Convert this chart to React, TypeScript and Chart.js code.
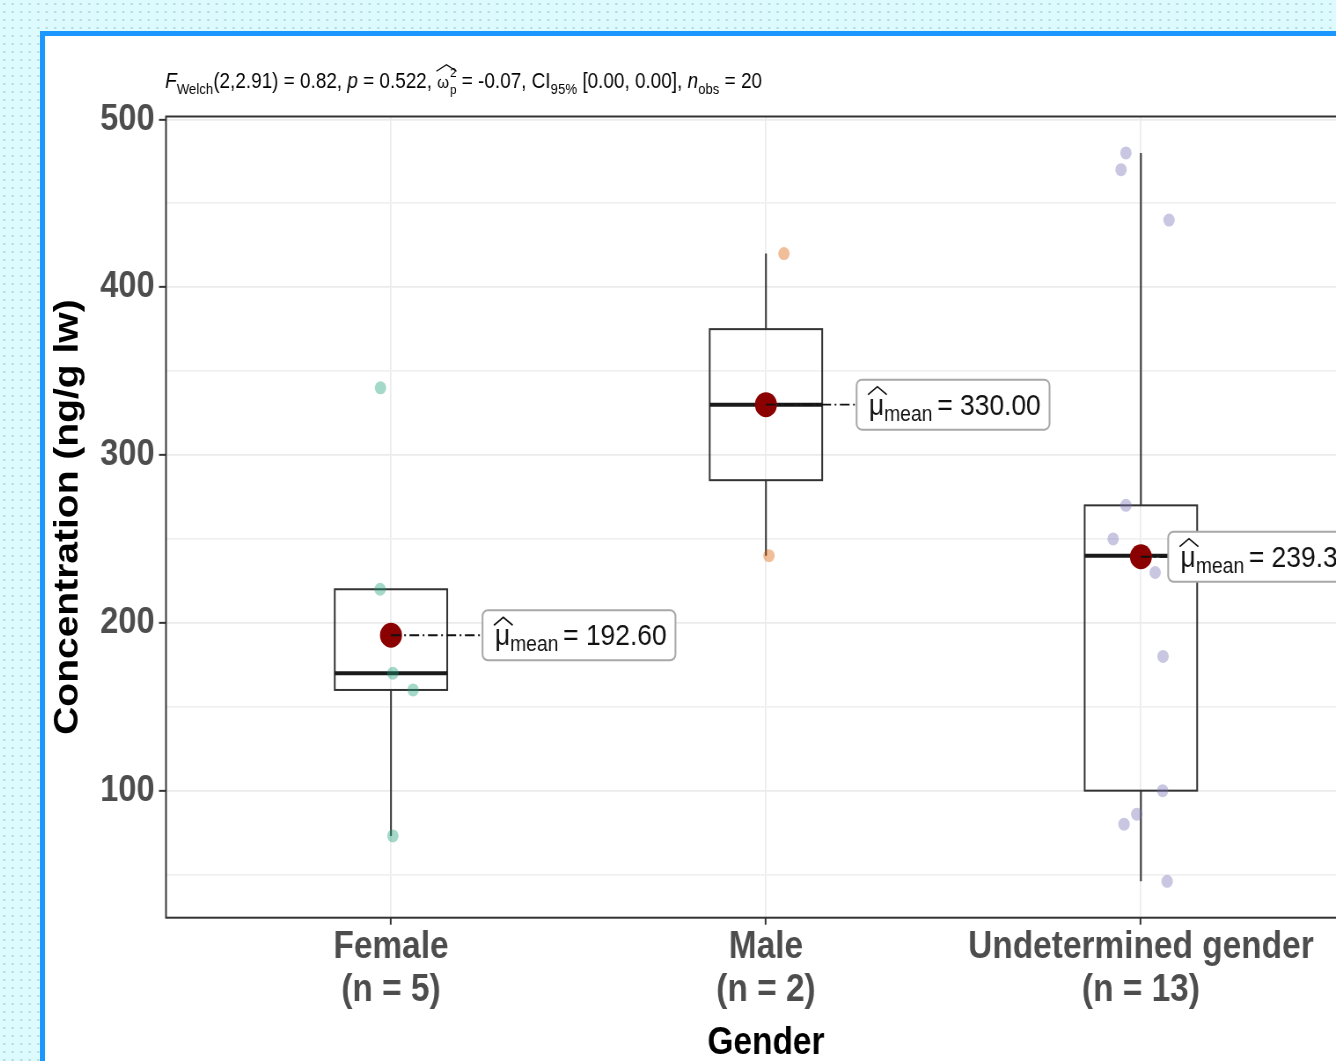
import React, { useEffect, useRef } from 'react';
import { Chart, registerables } from 'chart.js';

Chart.register(...registerables);

// ---------------- data ----------------
const categories = ['Female', 'Male', 'Undetermined gender'];
const femaleValues = [340, 220, 170, 160, 73];
const maleValues = [420, 240];
const undeterminedValues = [480, 470, 440, 270, 250, 240, 240, 230, 180, 100, 86, 80, 46];
// horizontal jitter of each observation (category units)
const femaleJitter = [-0.028, -0.029, 0.005, 0.059, 0.005];
const maleJitter = [0.048, 0.008];
const undeterminedJitter = [-0.04, -0.053, 0.075, -0.04, -0.074, 0.01, -0.01, 0.038, 0.059, 0.058, -0.011, -0.045, 0.07];
const yTickValues = [100, 200, 300, 400, 500];
const yMinorTickValues = [50, 150, 250, 350, 450];

// subtitle statistics
const welchDf = '2,2.91';
const fStatistic = '0.82';
const pValue = '0.522';
const omegaValue = '-0.07';
const ciText = '[0.00, 0.00]';
const nObs = '20';

const xTitle = 'Gender';
const yTitle = 'Concentration (ng/g lw)';

// ---------------- style ----------------
const SQUISH = 0.88;
const FAMILY = '"Liberation Sans", Arial, Helvetica, sans-serif';
const groupColors = ['rgba(27,158,119,0.4)', 'rgba(217,95,2,0.4)', 'rgba(117,112,179,0.4)'];
const meanLabelOffsetPx = [104, 103, 31];

const groups = [femaleValues, maleValues, undeterminedValues];
const jitters = [femaleJitter, maleJitter, undeterminedJitter];

function quantile(sorted: number[], p: number) {
  const pos = (sorted.length - 1) * p;
  const lo = Math.floor(pos);
  const hi = Math.ceil(pos);
  return sorted[lo] + (sorted[hi] - sorted[lo]) * (pos - lo);
}

function boxStats(values: number[]) {
  const s = [...values].sort((a, b) => a - b);
  const q1 = quantile(s, 0.25);
  const med = quantile(s, 0.5);
  const q3 = quantile(s, 0.75);
  const iqr = q3 - q1;
  const lowW = Math.min(...s.filter((v) => v >= q1 - 1.5 * iqr));
  const upW = Math.max(...s.filter((v) => v <= q3 + 1.5 * iqr));
  const mean = s.reduce((a, b) => a + b, 0) / s.length;
  return { q1, med, q3, lowW, upW, mean };
}

const stats = groups.map(boxStats);
const allValues = groups.flat();
const dataMin = Math.min(...allValues);
const dataMax = Math.max(...allValues);
const yRange = dataMax - dataMin;
const yMin = dataMin - 0.05 * yRange;
const yMax = dataMax + 0.05 * yRange;

const font = (size: number, weight = 'normal', italic = false) =>
  `${italic ? 'italic ' : ''}${weight} ${size}px ${FAMILY}`;

function drawSubtitle(ctx: CanvasRenderingContext2D, x0: number, base: number) {
  const f = 21.5;
  const sub = f * 0.7;
  const subDy = f * 0.28;
  let x = x0;
  ctx.save();
  ctx.fillStyle = '#000';
  ctx.textBaseline = 'alphabetic';
  ctx.textAlign = 'left';
  const put = (t: string, size: number, dy = 0, italic = false) => {
    ctx.font = font(size, 'normal', italic);
    ctx.fillText(t, x, base + dy);
    x += ctx.measureText(t).width;
  };
  put('F', f, 0, true);
  put('Welch', sub, subDy);
  put(`(${welchDf}) = ${fStatistic}, `, f);
  put('p', f, 0, true);
  put(` = ${pValue}, `, f);
  // omega hat squared sub p
  ctx.font = font(f * 0.8);
  const omW = ctx.measureText('ω').width;
  const omX = x;
  ctx.fillText('ω', x, base);
  x += omW + 1;
  ctx.font = font(f * 0.62);
  ctx.fillText('2', x, base - f * 0.5);
  ctx.fillText('p', x, base + f * 0.3);
  const supW = ctx.measureText('2').width;
  ctx.beginPath();
  ctx.lineWidth = 1.3;
  ctx.strokeStyle = '#000';
  ctx.moveTo(omX - 1, base - f * 0.78);
  ctx.lineTo(omX + (omW + supW) / 2, base - f * 1.08);
  ctx.lineTo(omX + omW + supW + 1, base - f * 0.78);
  ctx.stroke();
  x += supW;
  put(` = ${omegaValue}, CI`, f);
  put('95%', sub, subDy);
  put(` ${ciText}, `, f);
  put('n', f, 0, true);
  put('obs', sub, subDy);
  put(` = ${nObs}`, f);
  ctx.restore();
}

function drawMeanLabel(ctx: CanvasRenderingContext2D, x: number, y: number, meanText: string) {
  const fMain = 30;
  const fSub = 22;
  ctx.save();
  ctx.font = font(fMain);
  const muW = ctx.measureText('μ').width;
  const rest = ` = ${meanText}`;
  const restW = ctx.measureText(rest).width;
  ctx.font = font(fSub);
  const subW = ctx.measureText('mean').width;
  const padX = 12;
  const w = padX * 2 + muW + subW + restW - 3;
  const h = 50;
  ctx.beginPath();
  if ((ctx as any).roundRect) (ctx as any).roundRect(x, y - h / 2, w, h, 6);
  else ctx.rect(x, y - h / 2, w, h);
  ctx.fillStyle = '#fff';
  ctx.fill();
  ctx.lineWidth = 2;
  ctx.strokeStyle = '#a8a8a8';
  ctx.stroke();
  const base = y + 10;
  let cx = x + padX + 2;
  ctx.fillStyle = '#111';
  ctx.textBaseline = 'alphabetic';
  ctx.textAlign = 'left';
  ctx.font = font(fMain);
  ctx.fillText('μ', cx, base);
  ctx.beginPath();
  ctx.lineWidth = 1.6;
  ctx.strokeStyle = '#111';
  ctx.moveTo(cx - 1, base - 20);
  ctx.lineTo(cx + muW / 2 + 1, base - 28);
  ctx.lineTo(cx + muW + 3, base - 20);
  ctx.stroke();
  cx += muW;
  ctx.font = font(fSub);
  ctx.fillText('mean', cx, base + 6);
  cx += subW;
  ctx.font = font(fMain);
  ctx.fillText(rest, cx - 3, base);
  ctx.restore();
}

const boxPlugin = {
  id: 'boxPlugin',
  beforeDatasetsDraw(chart: any) {
    const { ctx, scales } = chart;
    const xs = scales.x;
    const ys = scales.y;
    ctx.save();
    stats.forEach((st, i) => {
      const cx = xs.getPixelForValue(i + 1);
      const xl = xs.getPixelForValue(i + 1 - 0.15);
      const xr = xs.getPixelForValue(i + 1 + 0.15);
      const yq1 = ys.getPixelForValue(st.q1);
      const yq3 = ys.getPixelForValue(st.q3);
      const ymed = ys.getPixelForValue(st.med);
      ctx.strokeStyle = '#333';
      ctx.lineWidth = 2;
      ctx.beginPath();
      ctx.moveTo(cx, ys.getPixelForValue(st.lowW));
      ctx.lineTo(cx, yq1);
      ctx.moveTo(cx, yq3);
      ctx.lineTo(cx, ys.getPixelForValue(st.upW));
      ctx.stroke();
      ctx.strokeRect(xl, yq3, xr - xl, yq1 - yq3);
      ctx.beginPath();
      ctx.lineWidth = 4;
      ctx.strokeStyle = '#1a1a1a';
      ctx.moveTo(xl, ymed);
      ctx.lineTo(xr, ymed);
      ctx.stroke();
    });
    ctx.restore();
  },
  afterDatasetsDraw(chart: any) {
    const { ctx, scales, chartArea } = chart;
    const xs = scales.x;
    const ys = scales.y;
    ctx.save();
    stats.forEach((st, i) => {
      const cx = xs.getPixelForValue(i + 1);
      const cy = ys.getPixelForValue(st.mean);
      const lx = cx + meanLabelOffsetPx[i];
      ctx.beginPath();
      ctx.setLineDash([11, 4, 2, 4]);
      ctx.lineWidth = 1.8;
      ctx.strokeStyle = '#111';
      ctx.moveTo(cx, cy);
      ctx.lineTo(lx, cy);
      ctx.stroke();
      ctx.setLineDash([]);
      drawMeanLabel(ctx, lx, cy, st.mean.toFixed(2));
    });
    // panel border
    ctx.strokeStyle = '#333';
    ctx.lineWidth = 2;
    ctx.strokeRect(chartArea.left, chartArea.top, chartArea.right - chartArea.left, chartArea.bottom - chartArea.top);
    ctx.restore();
  },
  afterDraw(chart: any) {
    drawSubtitle(chart.ctx, 136.5, 52);
  },
};

export default function App() {
  const ref = useRef<HTMLCanvasElement>(null);
  useEffect(() => {
    const canvas = ref.current;
    if (!canvas) return;
    const datasets: any[] = [
      {
        label: 'mean',
        data: stats.map((st, i) => ({ x: i + 1, y: st.mean })),
        pointRadius: 12.5,
        pointBackgroundColor: '#8B0000',
        pointBorderWidth: 0,
        order: 1,
      },
      ...groups.map((vals, gi) => ({
        label: categories[gi],
        data: vals.map((v, k) => ({ x: gi + 1 + jitters[gi][k], y: v })),
        pointRadius: 6.5,
        pointBackgroundColor: groupColors[gi],
        pointBorderWidth: 0,
        order: 2,
      })),
    ];
    const chart = new Chart(canvas, {
      type: 'scatter',
      data: { datasets },
      plugins: [boxPlugin],
      options: {
        animation: false,
        responsive: false,
        devicePixelRatio: 1,
        events: [],
        layout: { padding: { left: 0, top: 80.5, right: 59, bottom: 0 } },
        plugins: { legend: { display: false }, tooltip: { enabled: false } },
        scales: {
          x: {
            type: 'linear',
            min: 0.4,
            max: 3.6,
            afterBuildTicks: (scale: any) => {
              scale.ticks = categories.map((_, i) => ({ value: i + 1 }));
            },
            afterFit: (scale: any) => {
              scale.height = 152.3;
            },
            border: { display: false },
            grid: { color: '#ebebeb', lineWidth: 1.7, tickLength: 7, tickColor: '#333', tickWidth: 2 },
            ticks: {
              autoSkip: false,
              maxRotation: 0,
              padding: 1,
              color: '#4d4d4d',
              font: { family: FAMILY, size: 38, weight: 'bold', lineHeight: 1.145 },
              callback: (v: any) => {
                const i = Math.round(Number(v)) - 1;
                return [categories[i], `(n = ${groups[i].length})`];
              },
            },
            title: {
              display: true,
              text: xTitle,
              color: '#000',
              font: { family: FAMILY, size: 38, weight: 'bold', lineHeight: 1.2 },
              padding: { top: 0, bottom: 4 },
            },
          },
          y: {
            type: 'linear',
            min: yMin,
            max: yMax,
            afterBuildTicks: (scale: any) => {
              scale.ticks = [...yMinorTickValues, ...yTickValues].sort((a, b) => a - b).map((v) => ({ value: v }));
            },
            afterFit: (scale: any) => {
              scale.width = 137.5;
            },
            border: { display: false },
            grid: {
              color: (c: any) => (yTickValues.includes(c.tick?.value) ? '#ebebeb' : '#f1f1f1'),
              lineWidth: 1.7,
              tickLength: 8,
              tickWidth: 2,
              tickColor: (c: any) => (yTickValues.includes(c.tick?.value) ? '#333' : 'rgba(0,0,0,0)'),
            },
            ticks: {
              autoSkip: false,
              padding: 5,
              color: '#4d4d4d',
              font: { family: FAMILY, size: 37, weight: 'bold' },
              callback: (v: any) => (yTickValues.includes(Number(v)) ? String(v) : ''),
            },
            title: {
              display: true,
              text: yTitle,
              color: '#000',
              font: { family: FAMILY, size: 39, weight: 'bold', lineHeight: 1.2 },
              padding: { top: 2.7, bottom: 0 },
            },
          },
        },
      } as any,
    });
    return () => chart.destroy();
  }, []);

  return (
    <div
      style={{
        position: 'fixed',
        left: 0,
        top: 0,
        width: '100vw',
        height: '100vh',
        overflow: 'hidden',
        backgroundColor: '#ddfbfe',
        backgroundImage: 'radial-gradient(circle, rgba(140,185,190,0.55) 0.9px, rgba(0,0,0,0) 1.3px)',
        backgroundSize: '8.5px 8px',
      }}
    >
      <div
        style={{
          position: 'absolute',
          left: 40,
          top: 31,
          width: 1300,
          height: 1035,
          borderLeft: '5px solid #1a98ff',
          borderTop: '5px solid #1a98ff',
          background: '#fff',
          overflow: 'hidden',
        }}
      >
        <canvas
          ref={ref}
          width={1560}
          height={1034}
          style={{ display: 'block', transform: `scaleX(${SQUISH})`, transformOrigin: '0 0' }}
        />
      </div>
    </div>
  );
}
